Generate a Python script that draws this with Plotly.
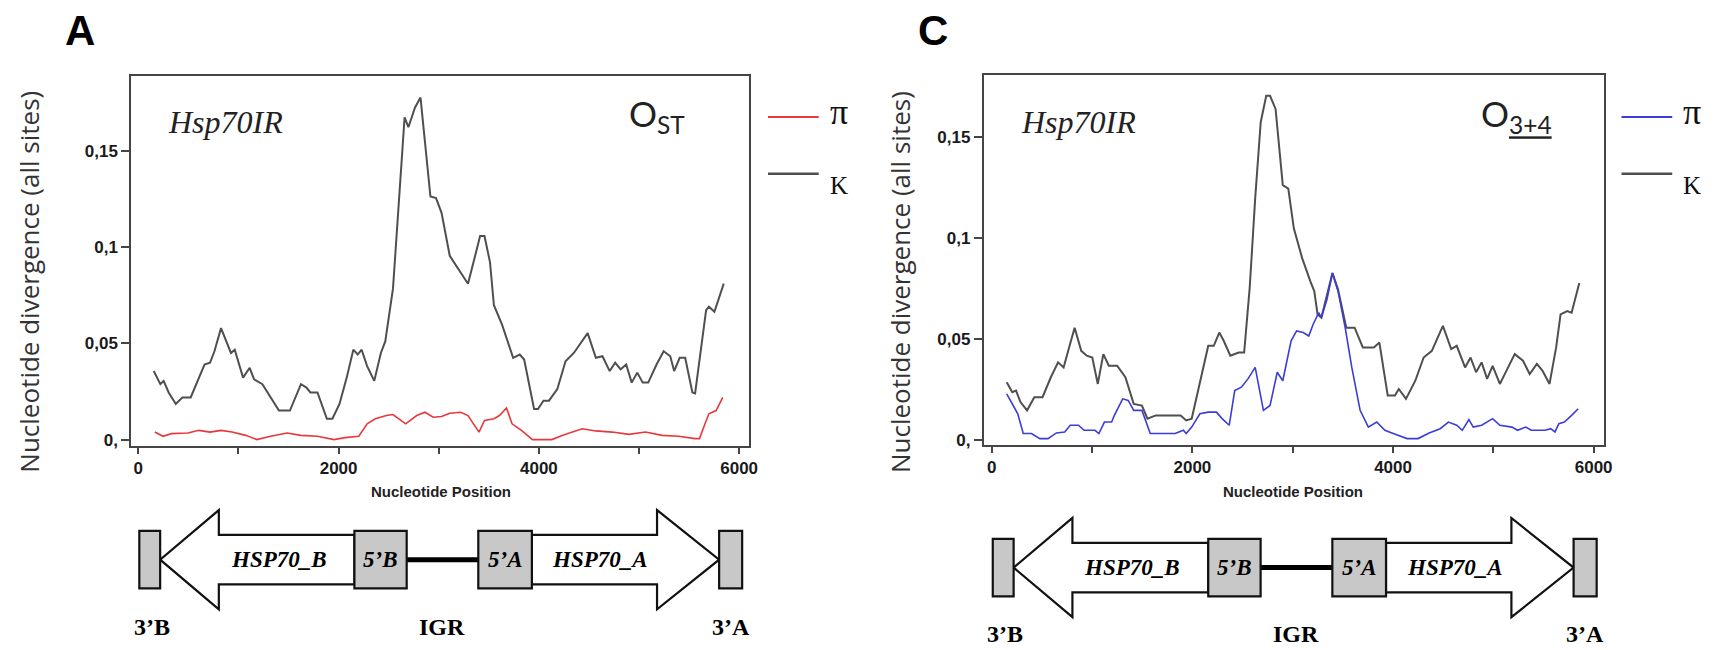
import plotly.graph_objects as go

W, H = 1726, 650

# ---------------- data ----------------
ost_k_x = [154, 220, 253, 303, 374, 440, 523, 578, 661, 716, 760, 826, 881, 925, 963, 1046, 1112, 1156, 1239, 1321,
           1404, 1514, 1624, 1679, 1718, 1789, 1883, 1938, 2009, 2081, 2147, 2191, 2230, 2285, 2356, 2422, 2466, 2543,
           2598, 2659, 2697, 2763, 2818, 2862, 2917, 2973, 3028, 3110, 3193, 3292, 3347, 3413, 3457, 3512, 3551, 3633,
           3743, 3809, 3853, 3952, 3991, 4046, 4101, 4184, 4266, 4349, 4487, 4569, 4635, 4707, 4762, 4817, 4872, 4927,
           4982, 5037, 5092, 5175, 5246, 5312, 5351, 5406, 5461, 5533, 5560, 5670, 5698, 5753, 5846]
ost_k_y = [0.0356, 0.0288, 0.0305, 0.0245, 0.0185, 0.0219, 0.0219, 0.0288, 0.0390, 0.0399, 0.0459, 0.0579, 0.0510,
           0.0450, 0.0467, 0.0322, 0.0373, 0.0313, 0.0288, 0.0219, 0.0151, 0.0151, 0.0288, 0.0270, 0.0245, 0.0245,
           0.0108, 0.0108, 0.0185, 0.0322, 0.0467, 0.0442, 0.0467, 0.0382, 0.0305, 0.0450, 0.0510, 0.0784, 0.1212,
           0.1674, 0.1623, 0.1726, 0.1777, 0.1537, 0.1263, 0.1255, 0.1178, 0.0955, 0.0887, 0.0810, 0.0921, 0.1058,
           0.1058, 0.0921, 0.0698, 0.0596, 0.0425, 0.0442, 0.0416, 0.0159, 0.0159, 0.0202, 0.0202, 0.0262, 0.0407,
           0.0450, 0.0553, 0.0425, 0.0433, 0.0356, 0.0399, 0.0365, 0.0390, 0.0296, 0.0348, 0.0296, 0.0296, 0.0390,
           0.0459, 0.0433, 0.0356, 0.0425, 0.0425, 0.0245, 0.0240, 0.0673, 0.0690, 0.0664, 0.0810]

ost_pi_x = [165, 248, 330, 495, 606, 716, 826, 936, 1073, 1184, 1321, 1486, 1624, 1789, 1954, 2064, 2202, 2285, 2367,
            2477, 2543, 2670, 2780, 2862, 2945, 3028, 3110, 3220, 3292, 3358, 3402, 3457, 3551, 3606, 3677, 3732,
            3826, 3936, 4129, 4239, 4432, 4569, 4734, 4900, 5065, 5230, 5395, 5560, 5604, 5659, 5698, 5770, 5836]
ost_pi_y = [0.0039, 0.0017, 0.0031, 0.0034, 0.0048, 0.0039, 0.0048, 0.0039, 0.0022, 0.0000, 0.0017, 0.0034, 0.0022,
            0.0017, 0.0000, 0.0010, 0.0017, 0.0082, 0.0108, 0.0125, 0.0130, 0.0082, 0.0125, 0.0142, 0.0116, 0.0120,
            0.0137, 0.0142, 0.0125, 0.0074, 0.0039, 0.0099, 0.0108, 0.0125, 0.0164, 0.0082, 0.0048, 0.0000, 0.0000,
            0.0022, 0.0056, 0.0045, 0.0039, 0.0027, 0.0039, 0.0022, 0.0017, 0.0005, 0.0005, 0.0082, 0.0134, 0.0151,
            0.0219]

o34_k_x = [149, 204, 242, 286, 352, 424, 506, 589, 661, 716, 771, 826, 892, 947, 1002, 1057, 1112, 1167, 1250, 1332,
           1415, 1497, 1552, 1635, 1883, 1938, 1993, 2075, 2158, 2213, 2268, 2312, 2378, 2461, 2516, 2571, 2626, 2681,
           2736, 2774, 2829, 2901, 2956, 3011, 3094, 3176, 3215, 3248, 3286, 3396, 3452, 3534, 3617, 3699, 3809, 3864,
           3947, 4019, 4057, 4129, 4222, 4305, 4387, 4497, 4580, 4635, 4718, 4773, 4828, 4883, 4938, 4993, 5065, 5131,
           5213, 5296, 5362, 5434, 5489, 5560, 5626, 5670, 5736, 5780, 5857]
o34_k_y = [0.0284, 0.0235, 0.0243, 0.0186, 0.0145, 0.0210, 0.0210, 0.0309, 0.0383, 0.0358, 0.0457, 0.0555, 0.0440,
           0.0416, 0.0407, 0.0276, 0.0424, 0.0366, 0.0366, 0.0309, 0.0177, 0.0169, 0.0104, 0.0120, 0.0120, 0.0095,
           0.0104, 0.0292, 0.0465, 0.0465, 0.0531, 0.0490, 0.0416, 0.0432, 0.0432, 0.0752, 0.1196, 0.1574, 0.1705,
           0.1705, 0.1640, 0.1262, 0.1245, 0.1048, 0.0900, 0.0785, 0.0736, 0.0621, 0.0605, 0.0826, 0.0744, 0.0555,
           0.0555, 0.0457, 0.0457, 0.0481, 0.0219, 0.0219, 0.0251, 0.0202, 0.0292, 0.0407, 0.0440, 0.0564, 0.0449,
           0.0465, 0.0358, 0.0407, 0.0334, 0.0383, 0.0301, 0.0366, 0.0276, 0.0342, 0.0424, 0.0391, 0.0325, 0.0375,
           0.0342, 0.0276, 0.0457, 0.0621, 0.0637, 0.0629, 0.0777]

o34_pi_x = [149, 204, 259, 314, 396, 479, 561, 644, 727, 782, 864, 920, 1029, 1068, 1123, 1195, 1222, 1305, 1360, 1415,
            1497, 1580, 1718, 1828, 1910, 1938, 1993, 2075, 2158, 2240, 2296, 2367, 2422, 2488, 2554, 2626, 2708, 2774,
            2846, 2901, 2984, 3039, 3105, 3160, 3204, 3259, 3286, 3341, 3396, 3452, 3523, 3589, 3672, 3754, 3837, 3919,
            4002, 4140, 4250, 4360, 4470, 4552, 4635, 4690, 4756, 4800, 4883, 4993, 5065, 5186, 5241, 5323, 5378, 5516,
            5571, 5615, 5653, 5708, 5780, 5846]
o34_pi_y = [0.0227, 0.0177, 0.0128, 0.0030, 0.0030, 0.0005, 0.0005, 0.0033, 0.0038, 0.0071, 0.0071, 0.0046, 0.0046,
            0.0030, 0.0087, 0.0087, 0.0120, 0.0202, 0.0194, 0.0145, 0.0145, 0.0030, 0.0030, 0.0030, 0.0046, 0.0030,
            0.0062, 0.0128, 0.0136, 0.0136, 0.0104, 0.0071, 0.0243, 0.0260, 0.0301, 0.0358, 0.0145, 0.0169, 0.0334,
            0.0292, 0.0490, 0.0539, 0.0531, 0.0514, 0.0572, 0.0629, 0.0605, 0.0695, 0.0826, 0.0736, 0.0555, 0.0358,
            0.0145, 0.0062, 0.0087, 0.0046, 0.0030, 0.0005, 0.0005, 0.0033, 0.0054, 0.0087, 0.0071, 0.0046, 0.0099,
            0.0062, 0.0071, 0.0104, 0.0071, 0.0062, 0.0046, 0.0062, 0.0046, 0.0046, 0.0054, 0.0038, 0.0079, 0.0087,
            0.0120, 0.0153]

y_tickvals = [0, 0.05, 0.1, 0.15]
y_ticktext = ["0,", "0,05", "0,1", "0,15"]
x_tickvals = [0, 2000, 4000, 6000]
x_ticktext = ["0", "2000", "4000", "6000"]

# gene structure (nucleotide coordinates along the x axis)
gene_3B = (10, 218)
gene_B_head = 804
gene_5B = (2158, 2680)
gene_5A = (3395, 3930)
gene_A_head = 5180
gene_3A = (5800, 6030)

# ---------------- styling ----------------
GRAY = "#4f4f4f"
RED = "#e8383d"
BLUE = "#3c3cd6"
AXC = "#454545"


def px(x):
    return x / W


def py(y):
    return 1 - y / H


fig = go.Figure()
fig.add_trace(go.Scatter(x=ost_k_x, y=ost_k_y, mode="lines", line=dict(color=GRAY, width=2), xaxis="x", yaxis="y",
                         showlegend=False))
fig.add_trace(go.Scatter(x=ost_pi_x, y=ost_pi_y, mode="lines", line=dict(color=RED, width=1.6), xaxis="x", yaxis="y",
                         showlegend=False))
fig.add_trace(go.Scatter(x=o34_k_x, y=o34_k_y, mode="lines", line=dict(color=GRAY, width=2), xaxis="x2", yaxis="y2",
                         showlegend=False))
fig.add_trace(go.Scatter(x=o34_pi_x, y=o34_pi_y, mode="lines", line=dict(color=BLUE, width=1.6), xaxis="x2",
                         yaxis="y2", showlegend=False))

panels = [
    # (xaxis, yaxis, box px left, right, top, bottom, xrange, yrange)
    ("x", "y", 132, 753, 77, 449, [-70, 6099], [-0.0031, 0.1887]),
    ("x2", "y2", 989, 1612, 76, 448, [-79, 6099], [-0.00246, 0.1806]),
]

layout = dict(width=W, height=H, margin=dict(l=0, r=0, t=0, b=0, pad=0),
              paper_bgcolor="white", plot_bgcolor="white", showlegend=False)

TICKFONT = dict(family="Liberation Sans, Arial", size=17, color="#1a1a1a", weight="bold")
for xa, ya, l, r, t, b, xr, yr in panels:
    xkey = "xaxis" if xa == "x" else "xaxis" + xa[1:]
    ykey = "yaxis" if ya == "y" else "yaxis" + ya[1:]
    layout[xkey] = dict(domain=[px(l), px(r)], range=xr, anchor=ya, showline=True, mirror=True,
                        linecolor=AXC, linewidth=2, ticks="outside", ticklen=6, tickwidth=1.5, tickcolor=AXC,
                        tickvals=x_tickvals, ticktext=x_ticktext, showgrid=False, zeroline=False,
                        minor=dict(tickvals=[1000, 3000, 5000], ticks="outside", ticklen=6, tickwidth=1.5,
                                   tickcolor=AXC, showgrid=False),
                        tickfont=TICKFONT)
    layout[ykey] = dict(domain=[py(b), py(t)], range=yr, anchor=xa, showline=True, mirror=True,
                        linecolor=AXC, linewidth=2, ticks="outside", ticklen=8, tickwidth=1.5, tickcolor=AXC,
                        tickvals=y_tickvals, ticktext=y_ticktext, showgrid=False, zeroline=False,
                        tickfont=TICKFONT)

annotations = []
shapes = []


def text(x, y, s, size, family, color="#111", xanchor="center", yanchor="middle", angle=0, **kw):
    annotations.append(dict(x=px(x), y=py(y), xref="paper", yref="paper", text=s, showarrow=False,
                            xanchor=xanchor, yanchor=yanchor, textangle=angle,
                            font=dict(size=size, family=family, color=color, **kw)))


# panel letters
text(80, 31, "A", 42, "Liberation Sans, Arial", color="#000", weight="bold")
text(938, 31, "C", 42, "Liberation Sans, Arial", color="#000", weight="bold")

for ytx, pi_color, boxl, boxc, lx0 in [(29, RED, 132, 443, 772), (905, BLUE, 989, 1300, 1630)]:
    # y axis title
    text(ytx, 284, "Nucleotide divergence (all sites)", 26, "Open Sans, DejaVu Sans", color="#333", angle=-90)
    # x axis title
    text(boxc, 495, "Nucleotide Position", 15, "Liberation Sans, Arial", color="#222", weight="bold")
    # gene name
    text(boxl + 35, 123, "Hsp70IR", 32, "Liberation Serif, Times New Roman", color="#222", xanchor="left",
         style="italic")
    # legend
    shapes.append(dict(type="line", xref="paper", yref="paper", x0=px(lx0), x1=px(lx0 + 51), y0=py(118), y1=py(118),
                       line=dict(color=pi_color, width=2)))
    shapes.append(dict(type="line", xref="paper", yref="paper", x0=px(lx0), x1=px(lx0 + 51), y0=py(175), y1=py(175),
                       line=dict(color=GRAY, width=2.5)))
    text(lx0 + 71, 113, "π", 36, "Liberation Serif, Times New Roman", color="#111")
    text(lx0 + 71, 187, "K", 25, "Liberation Serif, Times New Roman", color="#111")

text(660, 116, "O<sub>ST</sub>", 35, "Lato, Open Sans", color="#222")
text(1524, 116, "O<sub><u>3+4</u></sub>", 35, "Lato, Open Sans", color="#222")

# ---------------- gene diagrams (x in nucleotide coordinates) ----------------
for xa, cy, ty in [("x", 564, 632), ("x2", 572, 639)]:
    box_h, shaft_h, head_h = 29, 25, 50

    def P(y):
        return py(y)

    pathB = (f"M {gene_5B[0]},{P(cy - shaft_h)} L {gene_B_head},{P(cy - shaft_h)} L {gene_B_head},{P(cy - head_h)} "
             f"L {gene_3B[1]},{P(cy)} L {gene_B_head},{P(cy + head_h)} L {gene_B_head},{P(cy + shaft_h)} "
             f"L {gene_5B[0]},{P(cy + shaft_h)} Z")
    pathA = (f"M {gene_5A[1]},{P(cy - shaft_h)} L {gene_A_head},{P(cy - shaft_h)} L {gene_A_head},{P(cy - head_h)} "
             f"L {gene_3A[0]},{P(cy)} L {gene_A_head},{P(cy + head_h)} L {gene_A_head},{P(cy + shaft_h)} "
             f"L {gene_5A[1]},{P(cy + shaft_h)} Z")
    for pth in (pathB, pathA):
        shapes.append(dict(type="path", xref=xa, yref="paper", path=pth, fillcolor="white",
                           line=dict(color="#111", width=2.2)))
    shapes.append(dict(type="line", xref=xa, yref="paper", x0=gene_5B[1], x1=gene_5A[0], y0=P(cy), y1=P(cy),
                       line=dict(color="#000", width=5)))
    for (a, b_) in (gene_3B, gene_5B, gene_5A, gene_3A):
        shapes.append(dict(type="rect", xref=xa, yref="paper", x0=a, x1=b_, y0=P(cy + box_h), y1=P(cy - box_h),
                           fillcolor="#c8c8c8", line=dict(color="#111", width=2.2)))

    def gtext(xv, yv, s, size, italic):
        annotations.append(dict(x=xv, y=py(yv), xref=xa, yref="paper", text=s, showarrow=False,
                                xanchor="center", yanchor="middle",
                                font=dict(size=size, family="Liberation Serif, Times New Roman", color="#000",
                                          weight="bold", style="italic" if italic else "normal")))

    gtext((gene_B_head + gene_5B[0]) / 2 - 80, cy, "HSP70_B", 23, True)
    gtext(sum(gene_5B) / 2, cy, "5’B", 23, True)
    gtext(sum(gene_5A) / 2, cy, "5’A", 23, True)
    gtext((gene_5A[1] + gene_A_head) / 2 + 60, cy, "HSP70_A", 23, True)
    gtext(sum(gene_3B) / 2 + 20, ty, "3’B", 24, False)
    gtext((gene_5B[1] + gene_5A[0]) / 2, ty, "IGR", 24, False)
    gtext(sum(gene_3A) / 2, ty, "3’A", 24, False)

layout["annotations"] = annotations
layout["shapes"] = shapes
fig.update_layout(**layout)
fig.write_html("out.html")
